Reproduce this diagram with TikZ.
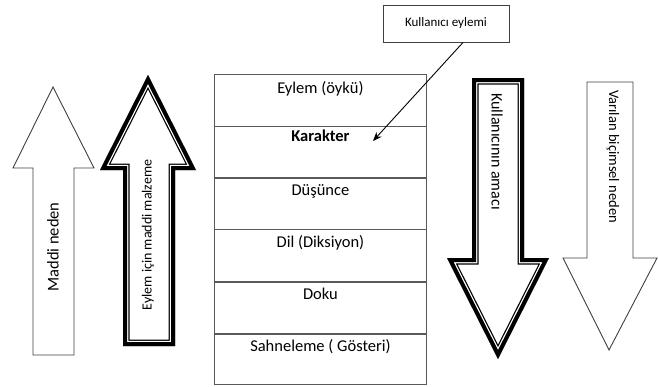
\documentclass[tikz,border=0pt]{standalone}
\usepackage{fontspec}
\setmainfont{Carlito}
\usetikzlibrary{arrows.meta}
\begin{document}
\begin{tikzpicture}[x=1pt,y=-1pt,
  thinline/.style={draw=black!75,line width=0.9pt},
  rowbox/.style={draw=black!65,line width=0.9pt,minimum width=212pt,minimum height=52pt,inner sep=0pt,anchor=north west},
  rowtxt/.style={anchor=north,inner sep=0pt,font=\fontsize{16.5}{19}\selectfont},
  vtxt/.style={inner sep=0pt,font=\fontsize{15}{18}\selectfont}]
\useasboundingbox (0,0) rectangle (658,386);
% table rows
\node[rowbox] (r1) at (214,74) {};
\node[rowbox] (r2) at (214,126) {};
\node[rowbox] (r3) at (214,177) {};
\node[rowbox] (r4) at (214,229) {};
\node[rowbox] (r5) at (214,282) {};
\node[rowbox,minimum height=51pt] (r6) at (214,333) {};
\node[rowtxt] (t1) at ([yshift=-7pt]r1.north) {Eylem (öykü)};
\node[rowtxt,font=\fontsize{16.5}{19}\selectfont\bfseries] (t2) at ([yshift=-4pt]r2.north) {Karakter};
\node[rowtxt] (t3) at ([yshift=-7pt]r3.north) {Düşünce};
\node[rowtxt] (t4) at ([yshift=-6pt]r4.north) {Dil (Diksiyon)};
\node[rowtxt] (t5) at ([yshift=-6pt]r5.north) {Doku};
\node[rowtxt] (t6) at ([yshift=-6pt]r6.north) {Sahneleme ( Gösteri)};
% user action box
\node[draw=black!75,line width=0.9pt,minimum width=126pt,minimum height=37pt,inner sep=0pt,font=\fontsize{13}{15}\selectfont] (ua) at (446,23.5) {Kullanıcı eylemi};
\coordinate (kt) at (373,141);
\draw[line width=0.9pt,-{Stealth[length=9pt,width=7pt]}] (ua.south) ++(17,0) coordinate (uas) (uas) -- (kt);
% arrow 1: Maddi neden (thin, up)
\draw[thinline,fill=white] (53,87) -- (94,168) -- (74,168) -- (74,355) -- (33,355) -- (33,168) -- (13,168) -- cycle;
\node[vtxt,rotate=90,font=\fontsize{16.5}{18}\selectfont] (a1) at (53,247) {Maddi neden};
% arrow 2: thick compound, up
\def\arrowB{(148,75) -- (196,170) -- (175,170) -- (175,346) -- (123,346) -- (123,170) -- (100,170) -- cycle}
\begin{scope}
\clip \arrowB;
\draw[line width=13pt,line join=miter] \arrowB;
\draw[white,line width=10.5pt,line join=miter] \arrowB;
\draw[line width=8pt,line join=miter] \arrowB;
\end{scope}
\node[vtxt,rotate=90,font=\fontsize{14}{16}\selectfont] (a2) at (148,235) {Eylem için maddi malzeme};
% arrow 3: thick compound, down
\def\arrowC{(472,78) -- (524,78) -- (524,258) -- (549,258) -- (498,359) -- (447,258) -- (472,258) -- cycle}
\begin{scope}
\clip \arrowC;
\draw[line width=13pt,line join=miter] \arrowC;
\draw[white,line width=10.5pt,line join=miter] \arrowC;
\draw[line width=8pt,line join=miter] \arrowC;
\end{scope}
\node[vtxt,rotate=-90,anchor=west,font=\fontsize{16}{18}\selectfont] (a3) at (497,93) {Kullanıcının amacı};
% arrow 4: thin, down
\draw[thinline,fill=white] (587,82) -- (633,82) -- (633,258) -- (657,258) -- (609,350) -- (563,258) -- (587,258) -- cycle;
\node[vtxt,rotate=-90,anchor=west,font=\fontsize{14.5}{16}\selectfont] (a4) at (613,90) {Varılan biçimsel neden};
\end{tikzpicture}
\end{document}
